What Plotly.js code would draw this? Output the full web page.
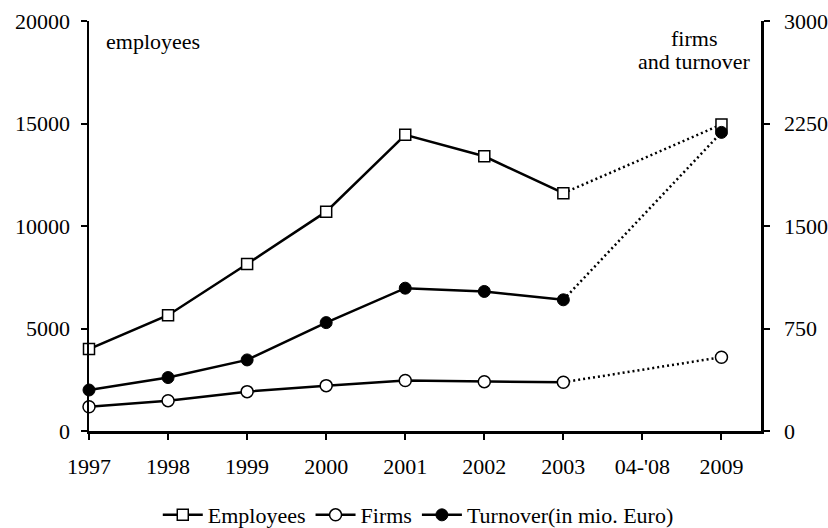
<!DOCTYPE html>
<html>
<head>
<meta charset="utf-8">
<script src="https://cdn.plot.ly/plotly-3.0.1.min.js"></script>
<style>html,body{margin:0;padding:0;background:#fff;}#chart{width:828px;height:528px;}</style>
</head>
<body>
<div id="chart"></div>
<script>
const years = ['1997','1998','1999','2000','2001','2002','2003',"04-'08",'2009'];
const employees = [4000, 5650, 8150, 10700, 14450, 13400, 11600, null, 14950];
const firms = [178, 222, 288, 332, 369, 361, 357, null, 540];
const turnover = [300, 391, 520, 793, 1045, 1021, 960, null, 2185];

const FONT = 'Liberation Serif';
const SIZE = 22;

function dottedPart(arr) { return arr.map((v, i) => (i >= 6 ? v : null)); }

const lineW = 2.5;
const dotted = (arr, axis) => ({
  x: years, y: dottedPart(arr), yaxis: axis, mode: 'lines', connectgaps: true,
  line: {color: '#000', width: lineW, dash: '2px,3px'}, showlegend: false, hoverinfo: 'skip'
});

const traces = [
  dotted(employees, 'y'),
  dotted(firms, 'y2'),
  dotted(turnover, 'y2'),
  {
    name: 'Employees', x: years, y: employees, yaxis: 'y', mode: 'lines+markers',
    line: {color: '#000', width: lineW},
    marker: {symbol: 'square', size: 11, color: '#fff', line: {color: '#000', width: 1.5}},
    cliponaxis: false
  },
  {
    name: 'Firms', x: years, y: firms, yaxis: 'y2', mode: 'lines+markers',
    line: {color: '#000', width: lineW},
    marker: {symbol: 'circle', size: 12, color: '#fff', line: {color: '#000', width: 1.5}},
    cliponaxis: false
  },
  {
    name: 'Turnover(in mio. Euro)', x: years, y: turnover, yaxis: 'y2', mode: 'lines+markers',
    line: {color: '#000', width: lineW},
    marker: {symbol: 'circle', size: 12, color: '#000', line: {color: '#000', width: 1}},
    cliponaxis: false
  }
];

const tf = {family: FONT, size: SIZE, color: '#000'};

const layout = {
  width: 828, height: 528,
  margin: {l: 89, r: 67, t: 21, b: 97, autoexpand: false},
  paper_bgcolor: '#fff', plot_bgcolor: '#fff',
  font: tf,
  showlegend: true,
  legend: {
    orientation: 'h', x: 0.49, xanchor: 'center', y: -0.205, yanchor: 'middle',
    itemwidth: 40, font: tf, traceorder: 'normal'
  },
  xaxis: {
    type: 'category', range: [0, 8.5], showgrid: false, zeroline: false,
    showline: true, linecolor: '#000', linewidth: 2.5,
    ticks: 'outside', ticklen: 6, tickwidth: 2, tickcolor: '#000',
    ticklabelstandoff: 8, tickfont: tf
  },
  yaxis: {
    range: [0, 20000], dtick: 5000, tick0: 0, tickformat: 'd', showgrid: false, zeroline: false,
    showline: true, linecolor: '#000', linewidth: 2.5,
    ticks: 'outside', ticklen: 6, tickwidth: 2, tickcolor: '#000',
    ticklabelstandoff: 6, tickfont: tf
  },
  yaxis2: {
    range: [0, 3000], dtick: 750, tick0: 0, tickformat: 'd', overlaying: 'y', side: 'right',
    showgrid: false, zeroline: false,
    showline: true, linecolor: '#000', linewidth: 2.5,
    ticks: 'outside', ticklen: 6, tickwidth: 2, tickcolor: '#000',
    ticklabelstandoff: 10, tickfont: tf
  },
  annotations: [
    {text: 'employees', xref: 'paper', yref: 'paper', x: 0.0223, y: 0.9488,
     xanchor: 'left', yanchor: 'middle', showarrow: false, font: tf},
    {text: 'firms', xref: 'paper', yref: 'paper', x: 0.9003, y: 0.9585,
     xanchor: 'center', yanchor: 'middle', showarrow: false, font: tf},
    {text: 'and turnover', xref: 'paper', yref: 'paper', x: 0.9003, y: 0.900,
     xanchor: 'center', yanchor: 'middle', showarrow: false, font: tf}
  ]
};

Plotly.newPlot('chart', traces, layout, {displayModeBar: false, staticPlot: true});
</script>
</body>
</html>
